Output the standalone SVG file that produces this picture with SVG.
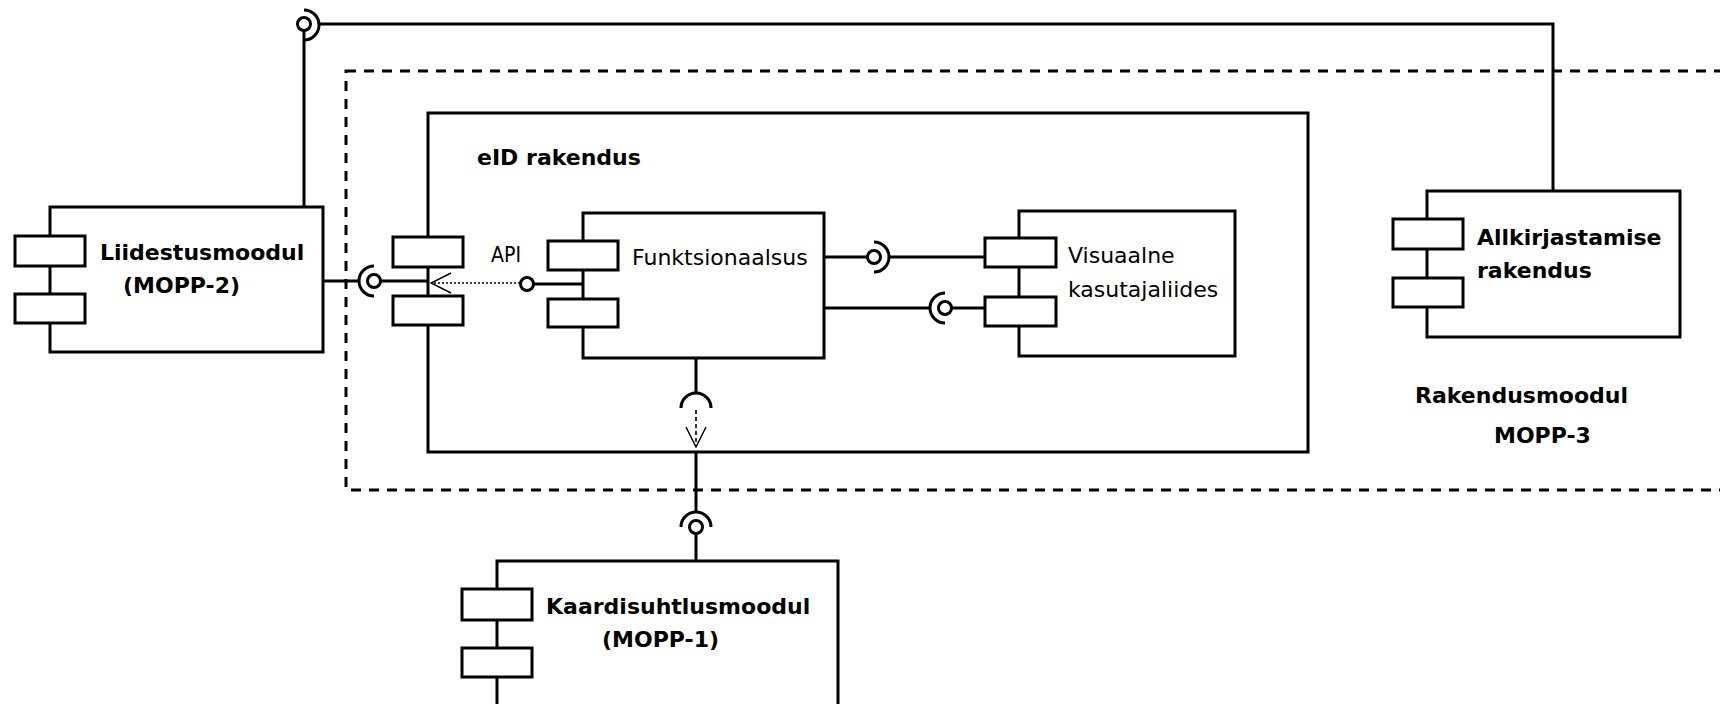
<svg xmlns="http://www.w3.org/2000/svg" width="1720" height="704" viewBox="0 0 1720 704">
<style>
.box{fill:#fff;stroke:#000;stroke-width:3}
.ln{fill:none;stroke:#000;stroke-width:3}
.ball{fill:#fff;stroke:#000;stroke-width:3}
.dot{fill:none;stroke:#000;stroke-width:1.6;stroke-dasharray:2 2}
.dash{fill:none;stroke:#000;stroke-width:1.6;stroke-dasharray:4 3}
.frame{fill:none;stroke:#000;stroke-width:3;stroke-dasharray:10 8}
.b{font-family:"DejaVu Sans",sans-serif;font-weight:bold;font-size:22px;fill:#000}
.r{font-family:"DejaVu Sans",sans-serif;font-size:22px;fill:#000}
</style>
<defs>
<marker id="open" markerUnits="userSpaceOnUse" viewBox="0 0 22 22" refX="21" refY="11" markerWidth="22" markerHeight="22" orient="auto">
<path d="M1,1 L21,11 L1,21" fill="none" stroke="#000" stroke-width="1.5"/>
</marker>
</defs>
<rect width="1720" height="704" fill="#fff"/>
<g id="rakendusmoodul">
<rect class="frame" x="346" y="71" width="1400" height="419"/>
<text class="b" x="1415" y="403">Rakendusmoodul</text>
<text class="b" x="1494" y="443">MOPP-3</text>
</g>
<g id="eid-rakendus">
<rect class="box" x="428" y="113" width="880" height="339"/>
<rect class="box" x="393" y="237" width="70" height="30"/>
<rect class="box" x="393" y="296" width="70" height="29"/>
<text class="b" x="477" y="165">eID rakendus</text>
</g>
<g id="liidestusmoodul">
<rect class="box" x="50" y="207" width="273" height="145"/>
<rect class="box" x="15" y="236" width="70" height="30"/>
<rect class="box" x="15" y="294" width="70" height="29"/>
<text class="b" x="100" y="260">Liidestusmoodul</text>
<text class="b" x="123" y="293">(MOPP-2)</text>
</g>
<g id="funktsionaalsus">
<rect class="box" x="583" y="213" width="241" height="145"/>
<rect class="box" x="548" y="241" width="70" height="29"/>
<rect class="box" x="548" y="299" width="70" height="28"/>
<text class="r" x="632" y="265">Funktsionaalsus</text>
</g>
<g id="visuaalne">
<rect class="box" x="1019" y="211" width="216" height="145"/>
<rect class="box" x="985" y="238" width="71" height="29"/>
<rect class="box" x="985" y="297" width="71" height="29"/>
<text class="r" x="1068" y="263">Visuaalne</text>
<text class="r" x="1068" y="297">kasutajaliides</text>
</g>
<g id="allkirjastamise">
<rect class="box" x="1427" y="191" width="253" height="146"/>
<rect class="box" x="1393" y="219" width="70" height="30"/>
<rect class="box" x="1393" y="278" width="70" height="29"/>
<text class="b" x="1477" y="245">Allkirjastamise</text>
<text class="b" x="1477" y="278">rakendus</text>
</g>
<g id="kaardisuhtlusmoodul">
<rect class="box" x="497" y="561" width="341" height="160"/>
<rect class="box" x="462" y="589" width="70" height="31"/>
<rect class="box" x="462" y="648" width="70" height="29"/>
<text class="b" x="546" y="614">Kaardisuhtlusmoodul</text>
<text class="b" x="602" y="647">(MOPP-1)</text>
</g>
<g id="connectors">
<path class="ln" d="M304,30 V207"/>
<path class="ln" d="M319,24 H1553 V191"/>
<path class="ln" d="M304,10 A15,15 0 0 1 304,40"/>
<circle class="ball" cx="304" cy="24" r="6.5"/>
<path class="ln" d="M323,281 H359"/>
<path class="ln" d="M374,266 A15,15 0 0 0 374,296"/>
<circle class="ball" cx="374" cy="281" r="6.5"/>
<path class="ln" d="M380,281 H428"/>
<path class="dot" d="M520,283 H431" marker-end="url(#open)"/>
<text class="r" x="491" y="262" style="font-size:21px" textLength="30" lengthAdjust="spacingAndGlyphs">API</text>
<circle class="ball" cx="527" cy="284" r="6.5"/>
<path class="ln" d="M533,284 H583"/>
<path class="ln" d="M824,257 H868"/>
<circle class="ball" cx="874" cy="257" r="6.5"/>
<path class="ln" d="M874,242 A15,15 0 0 1 874,272"/>
<path class="ln" d="M889,257 H985"/>
<path class="ln" d="M824,308 H930"/>
<path class="ln" d="M945,293 A15,15 0 0 0 945,323"/>
<circle class="ball" cx="945" cy="308" r="6.5"/>
<path class="ln" d="M951,308 H985"/>
<path class="ln" d="M696,358 V393"/>
<path class="ln" d="M681,408 A15,15 0 0 1 711,408"/>
<path class="dash" d="M696,410 V447" marker-end="url(#open)"/>
<path class="ln" d="M696,452 V512"/>
<path class="ln" d="M681,527 A15,15 0 0 1 711,527"/>
<circle class="ball" cx="696" cy="527" r="6.5"/>
<path class="ln" d="M696,533 V561"/>
</g>
</svg>
